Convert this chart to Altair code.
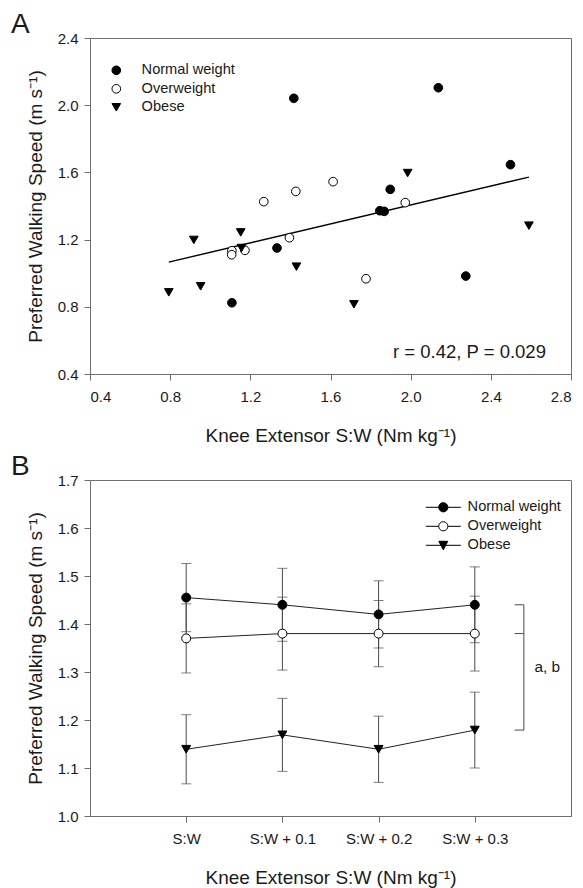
import altair as alt
import pandas as pd

FONT = "Liberation Sans"
TEXT = "#1a1a1a"
AXIS = "#6e6e6e"
BAR = "#4a4a4a"

groups = ["Normal weight", "Overweight", "Obese"]

# ---------------- Panel A data ----------------
normal_x = [1.417, 2.138, 2.498, 1.898, 1.846, 1.868, 1.333, 1.108, 2.275]
normal_y = [2.041, 2.104, 1.646, 1.499, 1.372, 1.368, 1.150, 0.824, 0.983]
over_x = [1.427, 1.267, 1.613, 1.973, 1.108, 1.107, 1.173, 1.395, 1.777]
over_y = [1.487, 1.426, 1.545, 1.420, 1.134, 1.110, 1.136, 1.211, 0.967]
obese_x = [1.985, 2.590, 0.918, 1.152, 1.156, 1.430, 0.793, 0.952, 1.717]
obese_y = [1.596, 1.283, 1.198, 1.243, 1.150, 1.039, 0.886, 0.922, 0.815]
a_ticks_x = [0.4, 0.8, 1.2, 1.6, 2.0, 2.4, 2.8]
a_ticks_y = [0.4, 0.8, 1.2, 1.6, 2.0, 2.4]
stat_label = "r = 0.42, P = 0.029"

# ---------------- Panel B data ----------------
conditions = ["S:W", "S:W + 0.1", "S:W + 0.2", "S:W + 0.3"]
normal_mean = [1.455, 1.440, 1.420, 1.440]
normal_err = [0.071, 0.076, 0.070, 0.079]
over_mean = [1.370, 1.380, 1.380, 1.380]
over_err = [0.072, 0.076, 0.069, 0.078]
obese_mean = [1.139, 1.169, 1.139, 1.179]
obese_err = [0.072, 0.076, 0.069, 0.079]
b_ticks_y = [1.0, 1.1, 1.2, 1.3, 1.4, 1.5, 1.6, 1.7]
sig_label = "a, b"

x_title = "Knee Extensor S:W (Nm kg\u207b\u00b9)"
y_title = "Preferred Walking Speed (m s\u207b\u00b9)"

# ---------------- tables ----------------
dfA = pd.DataFrame({
    "ks": normal_x + over_x + obese_x,
    "pws": normal_y + over_y + obese_y,
    "group": [groups[0]] * len(normal_x) + [groups[1]] * len(over_x) + [groups[2]] * len(obese_x),
})
dfStat = pd.DataFrame({"ks": [2.675], "pws": [0.53], "label": [stat_label]})

rows = []
for g, means, errs in zip(groups, [normal_mean, over_mean, obese_mean], [normal_err, over_err, obese_err]):
    for i, (m, e) in enumerate(zip(means, errs)):
        rows.append({"idx": i + 1, "cond": conditions[i], "group": g, "mean": m, "err": e})
dfB = pd.DataFrame(rows)

last = [normal_mean[-1], over_mean[-1], obese_mean[-1]]
dfBr = pd.DataFrame({"y": last})
dfBrV = pd.DataFrame({"y": [min(last)], "y2": [max(last)]})
dfSig = pd.DataFrame({"y": [(min(last) + max(last)) / 2], "label": [sig_label]})

W, H = 481, 336
shape_rng = ["circle", "circle", "triangle-down"]
fill_rng = ["black", "white", "black"]
stroke_rng = ["black", "black", "black"]

# ---------------- Panel A ----------------
xA = alt.X("ks:Q", scale=alt.Scale(domain=[0.4, 2.8], nice=False, zero=False),
           axis=alt.Axis(values=a_ticks_x, format=".1f", title=x_title))
yA = alt.Y("pws:Q", scale=alt.Scale(domain=[0.4, 2.4], nice=False, zero=False),
           axis=alt.Axis(values=a_ticks_y, format=".1f", title=y_title))

legA = alt.Legend(title=None, orient="none", legendX=19, legendY=25, padding=0,
                  symbolSize=75, symbolStrokeWidth=1,
                  labelFontSize=14.6, labelFont=FONT, labelColor=TEXT,
                  labelOffset=18, rowPadding=3.5)

pointsA = alt.Chart(dfA).mark_point(filled=True, strokeWidth=1, opacity=1, size=75).encode(
    x=xA, y=yA,
    shape=alt.Shape("group:N", scale=alt.Scale(domain=groups, range=shape_rng), legend=legA),
    fill=alt.Fill("group:N", scale=alt.Scale(domain=groups, range=fill_rng), legend=legA),
    stroke=alt.Stroke("group:N", scale=alt.Scale(domain=groups, range=stroke_rng), legend=legA),
)
regA = alt.Chart(dfA).transform_regression("ks", "pws").mark_line(
    color="black", strokeWidth=1.4).encode(x="ks:Q", y="pws:Q")
statA = alt.Chart(dfStat).mark_text(align="right", baseline="middle", fontSize=18.5,
                                    font=FONT, color=TEXT).encode(x="ks:Q", y="pws:Q", text="label:N")

panelA = alt.layer(regA, pointsA, statA).properties(
    width=W, height=H,
    title=alt.TitleParams("A", anchor="start", frame="group", dx=-79, offset=-8,
                          fontSize=28, fontWeight="normal", color=TEXT, font=FONT),
)

# ---------------- Panel B ----------------
label_expr = "[''," + ",".join("'" + c + "'" for c in conditions) + ",''][datum.value]"
xB = alt.X("idx:Q", scale=alt.Scale(domain=[0, 5], nice=False, zero=False),
           axis=alt.Axis(values=[1, 2, 3, 4], labelExpr=label_expr, title=x_title))
yB_axis = alt.Axis(values=b_ticks_y, format=".1f", title=y_title)
yscaleB = alt.Scale(domain=[1.0, 1.7], nice=False, zero=False)

baseB = alt.Chart(dfB).transform_calculate(lo="datum.mean - datum.err", hi="datum.mean + datum.err")

barsB = baseB.mark_rule(color=BAR, strokeWidth=1).encode(
    x=xB, y=alt.Y("lo:Q", scale=yscaleB, axis=yB_axis), y2="hi:Q")
capLo = baseB.mark_tick(orient="horizontal", size=10, thickness=1, color=BAR).encode(
    x=xB, y=alt.Y("lo:Q", scale=yscaleB))
capHi = baseB.mark_tick(orient="horizontal", size=10, thickness=1, color=BAR).encode(
    x=xB, y=alt.Y("hi:Q", scale=yscaleB))
linesB = alt.Chart(dfB).mark_line(color="#222222", strokeWidth=1).encode(
    x=xB, y=alt.Y("mean:Q", scale=yscaleB), detail="group:N")
pointsB = alt.Chart(dfB).mark_point(filled=True, stroke="black", strokeWidth=1,
                                     opacity=1, size=80).encode(
    x=xB, y=alt.Y("mean:Q", scale=yscaleB),
    shape=alt.Shape("group:N", scale=alt.Scale(domain=groups, range=shape_rng), legend=None),
    fill=alt.Fill("group:N", scale=alt.Scale(domain=groups, range=fill_rng), legend=None),
)

# legend glyphs "—●—", "—○—", "—▼—" (unit = 5 px for symbolSize 100)
path_circle = "M-3.5,0H-0.92M0.92,0H3.5M-0.92,0A0.92,0.92,0,1,1,0.92,0A0.92,0.92,0,1,1,-0.92,0Z"
path_tri = "M-3.5,0H3.5M-0.9,-0.8L0.9,-0.8L0,0.9Z"
legB = alt.Legend(title=None, orient="none", legendX=346, legendY=20, padding=0,
                  symbolSize=100, symbolStrokeWidth=1,
                  labelFontSize=14.6, labelFont=FONT, labelColor=TEXT,
                  labelOffset=17, rowPadding=4)
legendLayerB = alt.Chart(dfB).transform_filter("false").mark_point(
    filled=True, strokeWidth=1, opacity=1).encode(
    x=xB, y=alt.Y("mean:Q", scale=yscaleB),
    shape=alt.Shape("group:N", scale=alt.Scale(domain=groups, range=[path_circle, path_circle, path_tri]), legend=legB),
    fill=alt.Fill("group:N", scale=alt.Scale(domain=groups, range=fill_rng), legend=legB),
    stroke=alt.Stroke("group:N", scale=alt.Scale(domain=groups, range=stroke_rng), legend=legB),
)

bx = 4.51
bw = 0.095
brV = alt.Chart(dfBrV).mark_rule(color=BAR, strokeWidth=1).encode(
    x=alt.datum(bx), y=alt.Y("y:Q", scale=yscaleB), y2="y2:Q")
brH = alt.Chart(dfBr).mark_rule(color=BAR, strokeWidth=1).encode(
    x=alt.datum(bx - bw), x2=alt.datum(bx), y=alt.Y("y:Q", scale=yscaleB))
sig = alt.Chart(dfSig).mark_text(align="left", baseline="middle", fontSize=15.4,
                                 font=FONT, color=TEXT).encode(
    x=alt.datum(4.62), y=alt.Y("y:Q", scale=yscaleB), text="label:N")

panelB = alt.layer(barsB, capLo, capHi, linesB, pointsB, legendLayerB, brV, brH, sig).resolve_scale(
    shape="independent", fill="independent", stroke="independent").properties(
    width=W, height=H,
    title=alt.TitleParams("B", anchor="start", frame="group", dx=-79, offset=-8,
                          fontSize=28, fontWeight="normal", color=TEXT, font=FONT),
)

chart = alt.vconcat(panelA, panelB, spacing=6).resolve_scale(
    shape="independent", fill="independent", stroke="independent"
).configure(
    font=FONT, padding={"left": 10, "top": 10, "right": 5, "bottom": 0}, background="white"
).configure_axis(
    domainColor=AXIS, tickColor=AXIS, tickSize=6, grid=False,
    labelFontSize=15, titleFontSize=19, labelColor=TEXT, titleColor=TEXT,
    labelFont=FONT, titleFont=FONT, titleFontWeight="normal",
).configure_axisY(labelPadding=6, titlePadding=12).configure_axisX(labelPadding=9, titlePadding=22).configure_view(
    stroke=AXIS, strokeWidth=1
)

chart.save("out.html", embed_options={"renderer": "svg", "actions": False})
